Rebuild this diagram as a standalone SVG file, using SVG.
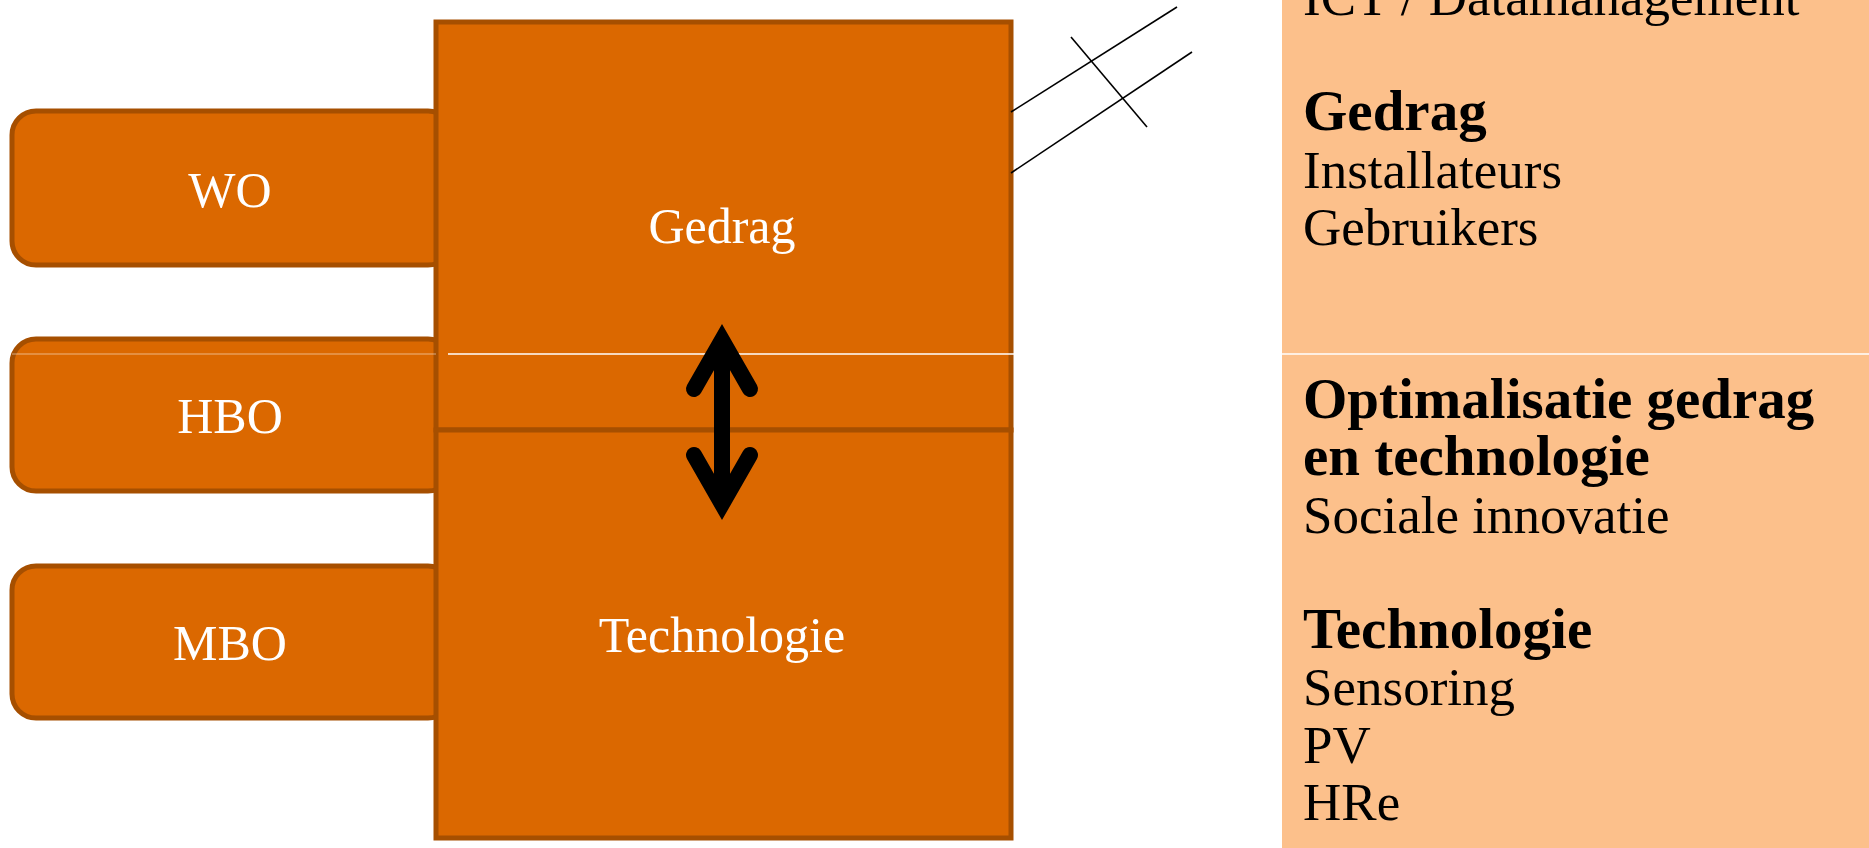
<svg xmlns="http://www.w3.org/2000/svg" width="1869" height="848" viewBox="0 0 1869 848">
  <style>
    .box { fill: #DB6800; stroke: #A64F00; stroke-width: 5; }
    .lbl { font-family: "Liberation Serif", "Times New Roman", serif; font-size: 50px; fill: #FFFFFF; text-anchor: middle; }
    .side { font-family: "Liberation Serif", "Times New Roman", serif; font-size: 53px; fill: #000000; }
    .side .b { font-weight: bold; font-size: 57px; }
    .thin { stroke: #000000; stroke-width: 1.6; fill: none; }
  </style>
  <rect width="1869" height="848" fill="#FFFFFF"/>

  <g id="panel">
    <rect x="1282" y="0" width="587" height="848" fill="#FCC08B"/>
    <text class="side" x="1303">
      <tspan x="1303" y="15">ICT / Datamanagement</tspan>
      <tspan x="1303" y="130" class="b">Gedrag</tspan>
      <tspan x="1303" y="187.5">Installateurs</tspan>
      <tspan x="1303" y="245">Gebruikers</tspan>
      <tspan x="1303" y="417.5" class="b">Optimalisatie gedrag</tspan>
      <tspan x="1303" y="475" class="b">en technologie</tspan>
      <tspan x="1303" y="532.5">Sociale innovatie</tspan>
      <tspan x="1303" y="647.5" class="b">Technologie</tspan>
      <tspan x="1303" y="705">Sensoring</tspan>
      <tspan x="1303" y="762.5">PV</tspan>
      <tspan x="1303" y="820">HRe</tspan>
    </text>
  </g>

  <g id="wo">
    <rect class="box" x="12" y="111" width="440" height="154" rx="24" ry="24"/>
    <text class="lbl" x="230" y="207">WO</text>
  </g>
  <g id="hbo">
    <rect class="box" x="12" y="339" width="440" height="152" rx="24" ry="24"/>
    <text class="lbl" x="230" y="433">HBO</text>
  </g>
  <g id="mbo">
    <rect class="box" x="12" y="566" width="440" height="152" rx="24" ry="24"/>
    <text class="lbl" x="230" y="660">MBO</text>
  </g>

  <g id="gedrag">
    <rect class="box" x="436" y="22" width="575" height="408"/>
    <text class="lbl" x="722" y="243">Gedrag</text>
  </g>
  <g id="technologie">
    <rect class="box" x="436" y="430" width="575" height="408"/>
    <text class="lbl" x="722" y="652">Technologie</text>
  </g>

  <g id="connectors">
    <line x1="12" y1="354" x2="436" y2="354" stroke="#FFFFFF" stroke-width="1.5" stroke-opacity="0.35"/>
    <line x1="448" y1="354" x2="1869" y2="354" stroke="#FFFFFF" stroke-width="1.5"/>
    <g stroke="#000000" stroke-width="16" fill="none">
      <line x1="722" y1="340" x2="722" y2="504" stroke-linecap="butt"/>
      <path d="M694,389 L722,340 L750,389" stroke-linecap="round" stroke-linejoin="miter" stroke-miterlimit="10"/>
      <path d="M694,455 L722,504 L750,455" stroke-linecap="round" stroke-linejoin="miter" stroke-miterlimit="10"/>
    </g>
    <line class="thin" x1="1011" y1="112" x2="1177" y2="7"/>
    <line class="thin" x1="1011" y1="173" x2="1192" y2="52"/>
    <line class="thin" x1="1071" y1="37" x2="1147" y2="127"/>
  </g>
</svg>
